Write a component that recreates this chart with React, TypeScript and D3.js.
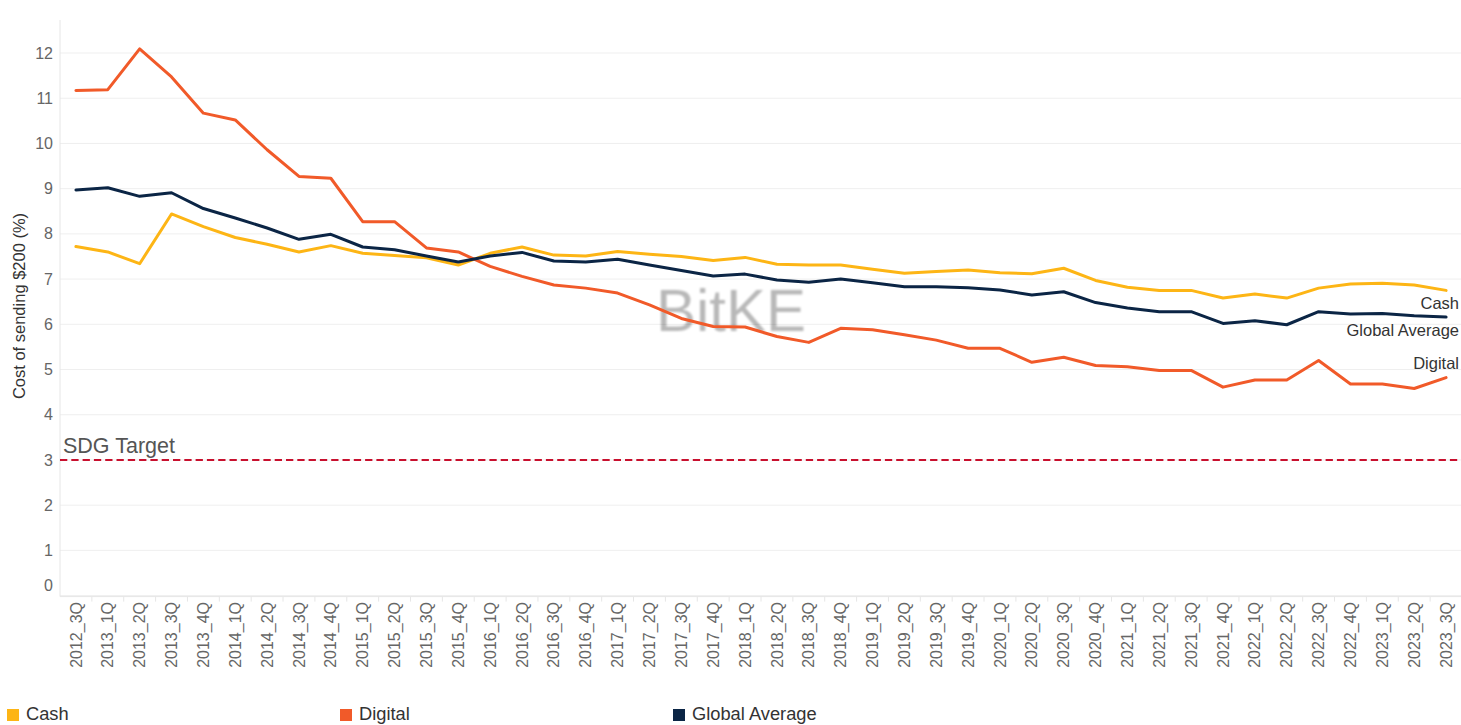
import React from "react";
import * as d3 from "d3";

const quarters = [
  "2012_3Q", "2013_1Q", "2013_2Q", "2013_3Q", "2013_4Q", "2014_1Q", "2014_2Q", "2014_3Q", "2014_4Q",
  "2015_1Q", "2015_2Q", "2015_3Q", "2015_4Q", "2016_1Q", "2016_2Q", "2016_3Q", "2016_4Q",
  "2017_1Q", "2017_2Q", "2017_3Q", "2017_4Q", "2018_1Q", "2018_2Q", "2018_3Q", "2018_4Q",
  "2019_1Q", "2019_2Q", "2019_3Q", "2019_4Q", "2020_1Q", "2020_2Q", "2020_3Q", "2020_4Q",
  "2021_1Q", "2021_2Q", "2021_3Q", "2021_4Q", "2022_1Q", "2022_2Q", "2022_3Q", "2022_4Q",
  "2023_1Q", "2023_2Q", "2023_3Q",
];

const cash = [
  7.72, 7.6, 7.34, 8.44, 8.16, 7.92, 7.77, 7.6, 7.74, 7.57, 7.52, 7.47, 7.31, 7.57, 7.71, 7.53, 7.51,
  7.61, 7.55, 7.5, 7.41, 7.48, 7.33, 7.31, 7.31, 7.22, 7.13, 7.17, 7.2, 7.14, 7.12, 7.24, 6.97,
  6.82, 6.75, 6.75, 6.58, 6.67, 6.58, 6.8, 6.89, 6.91, 6.87, 6.75,
];

const digital = [
  11.17, 11.19, 12.09, 11.47, 10.67, 10.52, 9.86, 9.27, 9.23, 8.27, 8.27, 7.69, 7.6, 7.28, 7.06, 6.87, 6.8,
  6.69, 6.43, 6.13, 5.95, 5.94, 5.73, 5.6, 5.91, 5.88, 5.77, 5.65, 5.47, 5.47, 5.16, 5.27, 5.09,
  5.06, 4.98, 4.98, 4.61, 4.77, 4.77, 5.2, 4.68, 4.68, 4.58, 4.82,
];

const globalAverage = [
  8.97, 9.02, 8.83, 8.91, 8.56, 8.35, 8.13, 7.88, 7.99, 7.71, 7.65, 7.51, 7.38, 7.51, 7.59, 7.4, 7.38,
  7.44, 7.31, 7.19, 7.07, 7.11, 6.98, 6.93, 7.0, 6.92, 6.83, 6.83, 6.81, 6.76, 6.65, 6.72, 6.48,
  6.36, 6.28, 6.28, 6.02, 6.08, 5.99, 6.28, 6.23, 6.24, 6.19, 6.16,
];

const yTicks = [0, 1, 2, 3, 4, 5, 6, 7, 8, 9, 10, 11, 12];
const sdgTarget = 3;

const seriesNames = ["Cash", "Digital", "Global Average"];
const seriesColors = ["#FDB515", "#F15A29", "#0B2545"];

const FONT = "Arial, 'Liberation Sans', sans-serif";

export default function App() {
  const W = 1461;
  const H = 725;
  const left = 60;
  const right = 1462;
  const top = 20;
  const bottom = 595.6;

  const x = d3.scaleBand<string>().domain(quarters).range([left, right]).paddingInner(0).paddingOuter(0);
  const cx = (q: string) => (x(q) as number) + x.bandwidth() / 2;
  const y = d3.scaleLinear().domain([0, 12.73]).range([bottom, top]);

  const series = [cash, digital, globalAverage];
  const line = d3
    .line<number>()
    .x((_, i) => cx(quarters[i]))
    .y((d) => y(d));

  const endLabels = [
    { name: "Cash", yPos: 309 },
    { name: "Global Average", yPos: 336 },
    { name: "Digital", yPos: 369 },
  ];

  const legendX = [7, 340, 673];

  return (
    <svg
      width={W}
      height={H}
      style={{ position: "absolute", left: 0, top: 0, background: "#fff" }}
      fontFamily={FONT}
    >
      <defs>
        <filter id="blur" x="-20%" y="-20%" width="140%" height="140%">
          <feGaussianBlur stdDeviation="1.3" />
        </filter>
      </defs>
      <rect x={0} y={0} width={W} height={H} fill="#fff" />

      {/* grid lines */}
      {yTicks.map((t) => (
        <line key={"g" + t} x1={left} x2={W} y1={y(t)} y2={y(t)} stroke="#efefef" strokeWidth={1} />
      ))}

      {/* axes lines */}
      <line x1={left} x2={left} y1={top} y2={bottom + 1} stroke="#e6e6e6" strokeWidth={1} />
      <line x1={left} x2={W} y1={bottom + 1} y2={bottom + 1} stroke="#e6e6e6" strokeWidth={1} />

      {/* x tick marks at band boundaries */}
      {quarters.map((q) => (
        <line
          key={"tk" + q}
          x1={(x(q) as number) + x.bandwidth()}
          x2={(x(q) as number) + x.bandwidth()}
          y1={bottom + 1}
          y2={bottom + 6}
          stroke="#e6e6e6"
        />
      ))}

      {/* y tick labels */}
      {yTicks.map((t) => (
        <text
          key={"yl" + t}
          x={53}
          y={t === 0 ? y(t) - 10 : y(t)}
          dy="0.35em"
          textAnchor="end"
          fontSize={16}
          fill="#666"
        >
          {t}
        </text>
      ))}

      {/* y axis title */}
      <text
        transform={`translate(25, 306) rotate(-90)`}
        textAnchor="middle"
        fontSize={16.5}
        fill="#333"
      >
        Cost of sending $200 (%)
      </text>

      {/* x tick labels */}
      {quarters.map((q) => (
        <text
          key={"xl" + q}
          transform={`translate(${cx(q)}, 602) rotate(-90)`}
          textAnchor="end"
          dy="0.35em"
          fontSize={16}
          fill="#666"
        >
          {q}
        </text>
      ))}

      {/* watermark */}
      <text
        x={731}
        y={331}
        textAnchor="middle"
        fontSize={60}
        fill="#000"
        fillOpacity={0.28}
        filter="url(#blur)"
      >
        BitKE
      </text>

      {/* SDG target */}
      <line
        x1={left}
        x2={W}
        y1={y(sdgTarget)}
        y2={y(sdgTarget)}
        stroke="#c8102e"
        strokeWidth={2}
        strokeDasharray="7.3,4"
      />
      <text x={63} y={y(sdgTarget) - 7} fontSize={21.5} fill="#555">
        SDG Target
      </text>

      {/* series lines */}
      {series.map((s, i) => (
        <path
          key={"s" + i}
          d={line(s) as string}
          fill="none"
          stroke={seriesColors[i]}
          strokeWidth={3}
          strokeLinejoin="round"
          strokeLinecap="round"
        />
      ))}

      {/* end labels */}
      {endLabels.map((l) => (
        <text key={"el" + l.name} x={1459} y={l.yPos} textAnchor="end" fontSize={16.5} fill="#333">
          {l.name}
        </text>
      ))}

      {/* legend */}
      {seriesNames.map((n, i) => (
        <g key={"lg" + n}>
          <rect x={legendX[i]} y={709} width={12} height={12} fill={seriesColors[i]} />
          <text x={legendX[i] + 19} y={720} fontSize={18.3} fill="#333">
            {n}
          </text>
        </g>
      ))}
    </svg>
  );
}
